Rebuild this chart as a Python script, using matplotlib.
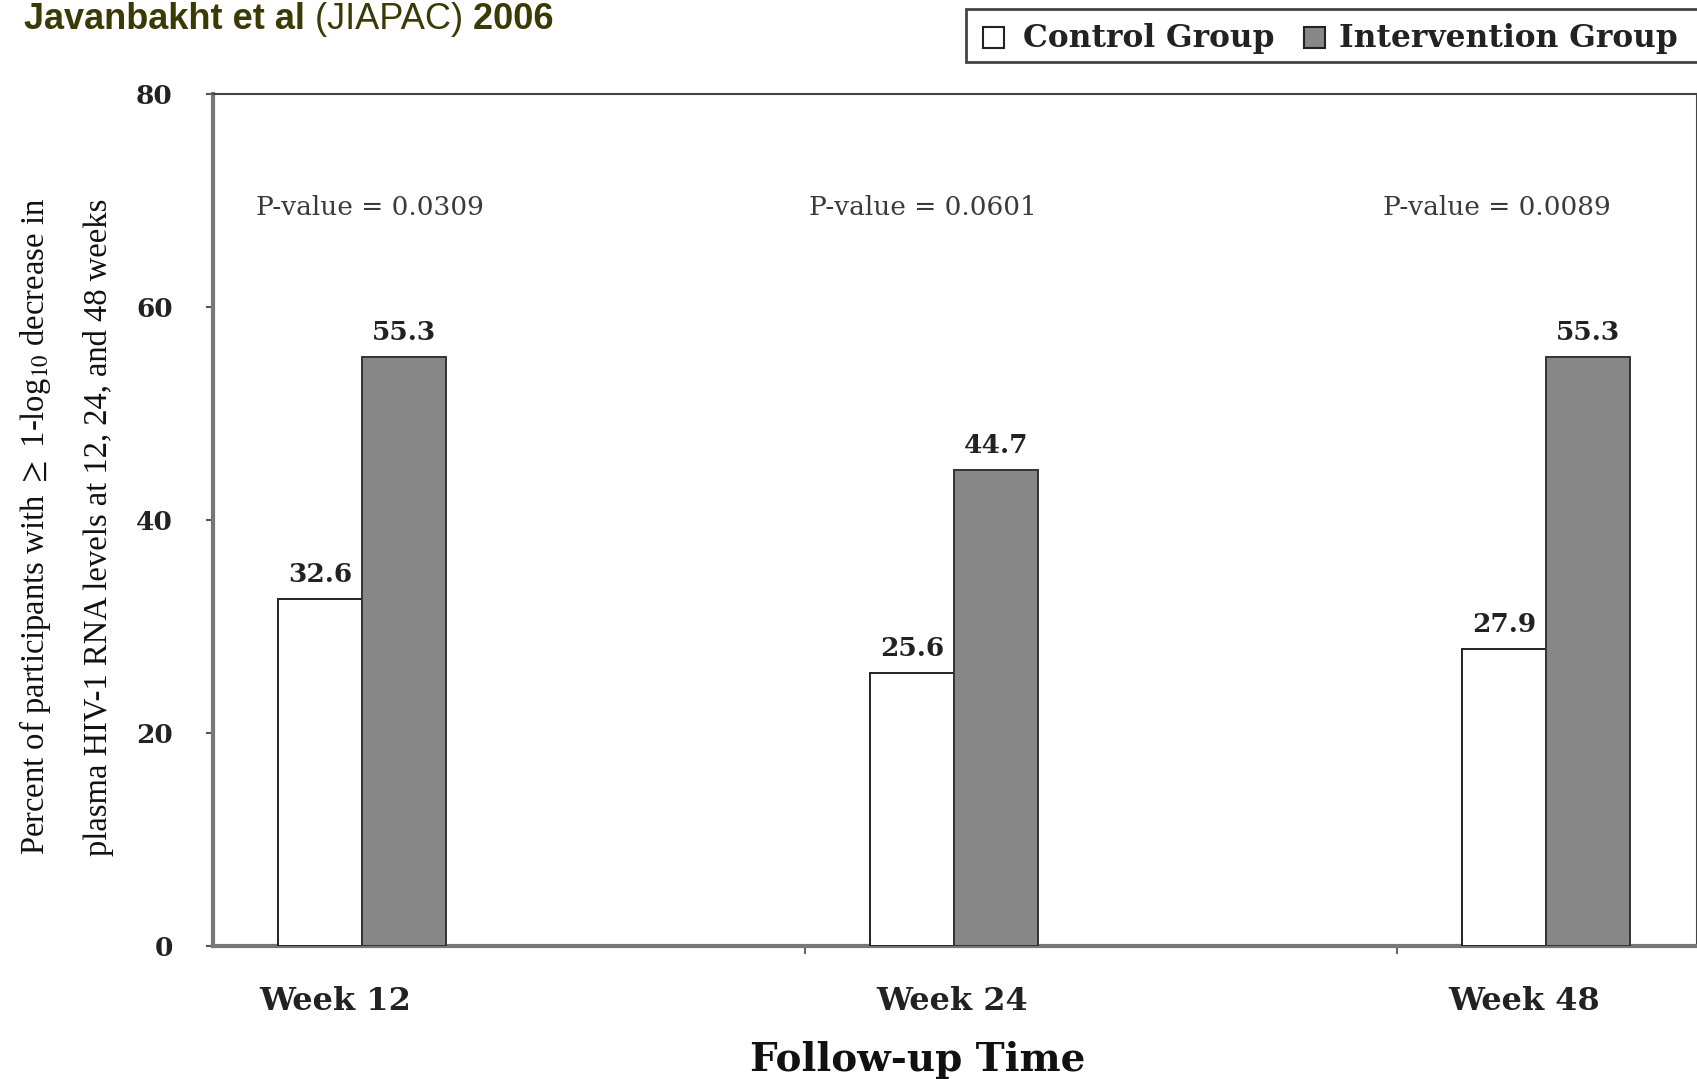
import matplotlib
matplotlib.use('Agg')
import matplotlib.pyplot as plt
from matplotlib.patches import Rectangle
import matplotlib.transforms as mtransforms
import numpy as np

plt.rcParams['mathtext.fontset'] = 'stix'

# ---------------- data ----------------
categories = ["Week 12", "Week 24", "Week 48"]
control = [32.6, 25.6, 27.9]
intervention = [55.3, 44.7, 55.3]
p_values = ["0.0309", "0.0601", "0.0089"]
series_names = ["Control Group", "Intervention Group"]
y_ticks = [0, 20, 40, 60, 80]

# ---------------- layout ----------------
W, H = 1697, 1079
fig = plt.figure(figsize=(W / 100, H / 100), dpi=100)
fig.patch.set_facecolor('white')
ax = fig.add_axes([213 / W, 1 - 946 / H, (W - 213) / W, 852 / H])

SERIF = 'DejaVu Serif'
x = np.arange(len(categories))
bw = 0.142
start = 0.110
ctrl_color = 'white'
int_color = '#878787'

ax.bar(x + start, control, width=bw, align='edge', color=ctrl_color,
       edgecolor='#222222', linewidth=1.4, zorder=3)
ax.bar(x + start + bw, intervention, width=bw, align='edge', color=int_color,
       edgecolor='#333333', linewidth=1.4, zorder=3)

for i in range(len(categories)):
    ax.text(x[i] + start + bw / 2, control[i] + 1.6, f"{control[i]}",
            ha='center', va='baseline', fontsize=19, fontweight='bold',
            family=SERIF, color='#222222')
    ax.text(x[i] + start + 1.5 * bw, intervention[i] + 1.6, f"{intervention[i]}",
            ha='center', va='baseline', fontsize=19, fontweight='bold',
            family=SERIF, color='#222222')

# P-value annotations
p_x = [0.073, 1.007, 1.976]
for i, p in enumerate(p_values):
    ax.text(p_x[i], 69.3, f"P-value = {p}", ha='left', va='center',
            fontsize=19, family=SERIF, color='#3a3a3a')

ax.set_xlim(0, 2.507)
ax.set_ylim(0, 80)
ax.set_yticks(y_ticks)
ax.set_yticklabels([str(t) for t in y_ticks], fontsize=19, fontweight='bold',
                   family=SERIF, color='#222222')
ax.tick_params(axis='y', direction='out', length=5, width=1.5,
               color='#555555', pad=24)
ax.set_xticks([1, 2])
ax.set_xticklabels(['', ''])
ax.tick_params(axis='x', direction='out', length=6, width=1.5, color='#666666')

# Category labels
label_off = [0.207, 0.249, 0.215]
trans = mtransforms.blended_transform_factory(ax.transData, ax.transAxes)
for i, c in enumerate(categories):
    ax.text(x[i] + label_off[i], -0.0751, c, transform=trans, ha='center',
            va='baseline', fontsize=23, fontweight='bold', family=SERIF,
            color='#222222', clip_on=False)

for s in ['left', 'bottom']:
    ax.spines[s].set_color('#777777')
    ax.spines[s].set_linewidth(3)
for s in ['top', 'right']:
    ax.spines[s].set_color('#444444')
    ax.spines[s].set_linewidth(1.5)

# X axis title
fig.text(918 / W, 1 - 1071 / H, "Follow-up Time", ha='center', va='baseline',
         fontsize=28, fontweight='bold', family=SERIF, color='#111111')

# Y axis title (two lines)
fig.text(35 / W, 1 - 527 / H,
         r"Percent of participants with $\geq$ 1-log$_{10}$ decrease in",
         rotation=90, ha='center', va='center', fontsize=23.5,
         family='Liberation Serif', color='#111111')
fig.text(99 / W, 1 - 527 / H,
         "plasma HIV-1 RNA levels at 12, 24, and 48 weeks",
         rotation=90, ha='center', va='center', fontsize=23.5,
         family='Liberation Serif', color='#111111')

# Legend (manual box)
fig.add_artist(Rectangle((966 / W, 1 - 62 / H), (W - 966 + 20) / W, 53 / H,
                         transform=fig.transFigure, facecolor='white',
                         edgecolor='#444444', linewidth=2, clip_on=False))
fig.add_artist(Rectangle((983 / W, 1 - 48 / H), 21 / W, 21 / H,
                         transform=fig.transFigure, facecolor=ctrl_color,
                         edgecolor='#222222', linewidth=1.5))
fig.add_artist(Rectangle((1304 / W, 1 - 48 / H), 21 / W, 21 / H,
                         transform=fig.transFigure, facecolor=int_color,
                         edgecolor='#222222', linewidth=1.5))
fig.text(1023 / W, 1 - 38 / H, series_names[0], ha='left', va='center',
         fontsize=22.5, fontweight='bold', family=SERIF, color='#222222')
fig.text(1339 / W, 1 - 38 / H, series_names[1], ha='left', va='center',
         fontsize=22.5, fontweight='bold', family=SERIF, color='#222222')

# Title (mixed weight), kept fully inside the figure
tcol = '#3a3a05'
t1 = fig.text(24 / W, 1 - 2 / H, "Javanbakht et al", ha='left', va='top',
              fontsize=26, fontweight='bold', family='Liberation Sans', color=tcol)
t2 = ax.annotate(" (JIAPAC)", xy=(1, 0), xycoords=t1, ha='left', va='bottom',
                 fontsize=26, family='Liberation Sans', color=tcol,
                 annotation_clip=False)
t3 = ax.annotate(" 2006", xy=(1, 0), xycoords=t2, ha='left', va='bottom',
                 fontsize=26, fontweight='bold', family='Liberation Sans',
                 color=tcol, annotation_clip=False)

fig.savefig('out.png', dpi=100, facecolor='white')
